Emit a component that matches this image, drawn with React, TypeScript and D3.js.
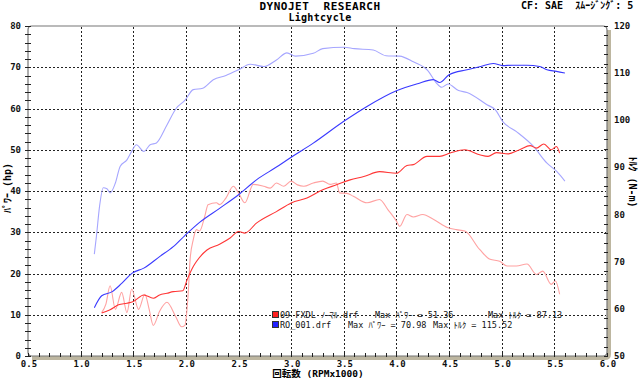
import React from "react";
import * as d3 from "d3";

// ---- data ----
const xTicks = [0.5, 1.0, 1.5, 2.0, 2.5, 3.0, 3.5, 4.0, 4.5, 5.0, 5.5, 6.0];
const hpTicks = [0, 10, 20, 30, 40, 50, 60, 70, 80];
const nmTicks = [50, 60, 70, 80, 90, 100, 110, 120];

// RO_001 power (hp)
const roPowerRpm = [1.13, 1.2, 1.3, 1.39, 1.49, 1.6, 1.75, 1.88, 1.99, 2.13, 2.32, 2.5, 2.67, 2.86, 3.0, 3.21, 3.5, 3.72, 4.0, 4.2, 4.35, 4.41, 4.5, 4.67, 4.8, 4.92, 5.01, 5.1, 5.24, 5.36, 5.43, 5.52, 5.6];
const roPower = [11.7, 14.6, 15.6, 17.6, 20.1, 21.3, 24.1, 26.5, 29.2, 32.4, 35.8, 39.1, 42.7, 45.8, 48.2, 51.6, 56.9, 60.5, 64.3, 66.0, 67.0, 66.3, 68.2, 69.4, 70.2, 70.9, 70.4, 70.5, 70.5, 70.2, 69.4, 69.0, 68.6];

// RO_001 torque (N-m)
const roTorqueRpm = [1.13, 1.15, 1.18, 1.215, 1.25, 1.28, 1.33, 1.375, 1.44, 1.485, 1.53, 1.6, 1.66, 1.72, 1.82, 1.91, 1.99, 2.07, 2.16, 2.26, 2.38, 2.5, 2.61, 2.74, 2.86, 2.96, 3.04, 3.21, 3.3, 3.5, 3.6, 3.78, 3.9, 4.03, 4.16, 4.3, 4.38, 4.43, 4.49, 4.59, 4.67, 4.86, 4.94, 5.01, 5.14, 5.3, 5.43, 5.52, 5.6];
const roTorque = [71.6, 75.4, 81.8, 85.7, 85.5, 84.6, 86.7, 90.2, 91.6, 93.4, 94.8, 93.4, 94.8, 95.2, 99.0, 102.6, 104.2, 106.5, 106.8, 108.6, 109.5, 110.7, 111.9, 111.4, 112.8, 114.3, 113.6, 114.2, 115.2, 115.5, 115.2, 114.9, 113.7, 113.6, 112.4, 110.5, 107.9, 107.0, 107.7, 106.3, 105.9, 103.3, 102.2, 99.7, 97.6, 94.5, 90.9, 89.2, 87.1];

// 09 FXDL power (hp)
const fxPowerRpm = [1.2, 1.28, 1.36, 1.44, 1.5, 1.6, 1.69, 1.75, 1.82, 1.88, 1.97, 2.01, 2.07, 2.1, 2.2, 2.32, 2.42, 2.5, 2.56, 2.67, 2.86, 3.0, 3.15, 3.3, 3.43, 3.56, 3.69, 3.84, 4.0, 4.1, 4.16, 4.29, 4.41, 4.51, 4.65, 4.79, 4.87, 4.95, 5.06, 5.17, 5.27, 5.33, 5.4, 5.47, 5.52, 5.55];
const fxPower = [10.4, 11.2, 12.4, 12.8, 13.2, 14.8, 14.0, 14.8, 15.2, 15.6, 15.8, 18.4, 21.7, 22.9, 25.7, 27.1, 28.6, 30.2, 29.8, 32.2, 35.0, 37.1, 38.3, 40.3, 41.5, 42.7, 43.5, 44.7, 44.3, 46.2, 46.4, 48.4, 48.4, 49.2, 50.0, 48.8, 48.4, 49.3, 49.0, 50.0, 51.0, 50.4, 51.4, 50.0, 50.8, 49.2];

// 09 FXDL torque (N-m)
const fxTorqueRpm = [1.2, 1.24, 1.28, 1.33, 1.39, 1.44, 1.485, 1.55, 1.61, 1.65, 1.69, 1.75, 1.82, 1.9, 1.96, 1.99, 2.02, 2.04, 2.07, 2.1, 2.13, 2.18, 2.21, 2.29, 2.32, 2.38, 2.45, 2.5, 2.56, 2.64, 2.74, 2.8, 2.86, 2.93, 3.0, 3.06, 3.12, 3.21, 3.3, 3.37, 3.43, 3.46, 3.53, 3.59, 3.72, 3.84, 3.92, 4.0, 4.03, 4.1, 4.16, 4.25, 4.35, 4.49, 4.57, 4.65, 4.79, 4.89, 4.98, 5.05, 5.14, 5.24, 5.33, 5.39, 5.47, 5.51, 5.55];
const fxTorque = [59.2, 61, 64.9, 59.9, 63.5, 59.2, 64.2, 59.9, 63.1, 60, 56.5, 59.5, 61.4, 58.5, 56.2, 56.5, 62.7, 70.5, 74.7, 76.8, 76.5, 79.7, 82.1, 82.5, 82.1, 83.5, 86.0, 84.6, 82.5, 86.4, 86.0, 85.6, 86.7, 86.0, 87.1, 86.3, 86.0, 86.7, 87.1, 86.4, 86.7, 84.6, 84.5, 83.9, 82.5, 83.2, 81.0, 78.6, 77.5, 80.0, 79.5, 80.0, 79.0, 77.2, 76.8, 76.5, 72.6, 70.5, 70.1, 69.1, 69.1, 69.5, 67.3, 68.0, 65.2, 65.9, 63.1];

const legendNames = ["09 FXDL ﾉｰﾏﾙ.drf", "RO_001.drf"];
const legendPower = ["51.36", "70.98"];
const legendTorque = ["87.13", "115.52"];
const legendColors = ["#ff2020", "#2020ff"];

// ---- layout ----
const W = 640, H = 378;
const X0 = 28, X1 = 607, YT = 26, YB = 356;
const FONT = "'DejaVu Sans Mono', 'Noto Sans CJK JP', monospace";

export default function App() {
  const x = d3.scaleLinear().domain([0.5, 6.0]).range([X0, X1]);
  const yHp = d3.scaleLinear().domain([0, 80]).range([YB, YT]);
  const yNm = d3.scaleLinear().domain([50, 120]).range([YB, YT]);

  const mk = (rpm: number[], vals: number[], y: d3.ScaleLinear<number, number>) =>
    d3.line<number>().x((_, i) => x(rpm[i])).y((v) => y(v)).curve(d3.curveMonotoneX)(vals) || "";

  const minorX = d3.range(5, 61).map((v) => v / 10);
  const minorHp = d3.range(0, 81, 2);
  const minorNm = d3.range(50, 121, 2);
  const r = 4;
  const frame = `M${X0},${YB - r} L${X0},${YT + r} Q${X0},${YT} ${X0 + r},${YT} L${X1 - r},${YT} Q${X1},${YT} ${X1},${YT + r} L${X1},${YB - r} Q${X1},${YB} ${X1 - r},${YB} L${X0 + r},${YB} Q${X0},${YB} ${X0},${YB - r}`;
  const shadow = `M${X1 + 2},${YT + r} L${X1 + 2},${YB - r + 2} Q${X1 + 2},${YB + 2} ${X1 - r + 2},${YB + 2} L${X0 + r},${YB + 2}`;

  return (
    <svg width={W} height={H} style={{ position: "absolute", left: 0, top: 0, background: "#fff" }} fontFamily={FONT} fontWeight="bold">
      <rect x={0} y={0} width={W} height={H} fill="#fff" />
      {/* header */}
      <text x={320} y={10} textAnchor="middle" fontSize={11} letterSpacing={0.5} xmlSpace="preserve">DYNOJET  RESEARCH</text>
      <text x={320} y={21} textAnchor="middle" fontSize={10} letterSpacing={0.3}>Lightcycle</text>
      <text x={521} y={9} fontSize={10} xmlSpace="preserve">CF: SAE  ｽﾑｰｼﾞﾝｸﾞ: 5</text>

      {/* grid */}
      <g stroke="#222" strokeDasharray="2,2" shapeRendering="crispEdges" strokeWidth={1}>
        {xTicks.slice(1, -1).map((t) => (
          <line key={"gx" + t} x1={Math.round(x(t)) + 0.5} x2={Math.round(x(t)) + 0.5} y1={YT + 1} y2={YB - 1} />
        ))}
        {hpTicks.slice(1, -1).map((t) => (
          <line key={"gy" + t} x1={X0 + 1} x2={X1 - 1} y1={Math.round(yHp(t)) + 0.5} y2={Math.round(yHp(t)) + 0.5} />
        ))}
      </g>

      {/* frame */}
      <path d={shadow} fill="none" stroke="#bdb6a0" strokeWidth={4} />
      <path d={frame} fill="none" stroke="#777" strokeWidth={1.2} />

      {/* ticks */}
      <g stroke="#222" strokeWidth={1} shapeRendering="crispEdges">
        {minorHp.map((t) => (
          <line key={"th" + t} x1={X0 - 3} x2={X0 + 3} y1={Math.round(yHp(t)) + 0.5} y2={Math.round(yHp(t)) + 0.5} />
        ))}
        {minorNm.map((t) => (
          <line key={"tn" + t} x1={X1 - 3} x2={X1 + 1} y1={Math.round(yNm(t)) + 0.5} y2={Math.round(yNm(t)) + 0.5} />
        ))}
        {minorX.map((t) => (
          <line key={"tx" + t} x1={Math.round(x(t)) + 0.5} x2={Math.round(x(t)) + 0.5} y1={YB - 3} y2={YB + 1} />
        ))}
      </g>

      {/* tick labels */}
      <g fontSize={9} fill="#111">
        {hpTicks.map((t) => (
          <text key={"lh" + t} x={21} y={yHp(t) + 3} textAnchor="end">{t}</text>
        ))}
        {nmTicks.map((t) => (
          <text key={"ln" + t} x={614} y={yNm(t) + 3} textAnchor="start">{t}</text>
        ))}
        {xTicks.map((t) => (
          <text key={"lx" + t} x={x(t) + 1} y={367} textAnchor="middle">{t.toFixed(1)}</text>
        ))}
      </g>

      {/* axis titles */}
      <text x={318} y={377} textAnchor="middle" fontSize={9.5}>回転数 (RPMx1000)</text>
      <text transform={`translate(11,188) rotate(-90)`} textAnchor="middle" fontSize={10}>ﾊﾟﾜｰ (hp)</text>
      <text transform={`translate(629,182) rotate(90)`} textAnchor="middle" fontSize={10}>ﾄﾙｸ (N-m)</text>

      {/* curves */}
      <g fill="none" strokeWidth={1.1} strokeLinejoin="round">
        <path d={mk(fxTorqueRpm, fxTorque, yNm)} stroke="#ffa2a2" />
        <path d={mk(roTorqueRpm, roTorque, yNm)} stroke="#a6a6ff" />
        <path d={mk(fxPowerRpm, fxPower, yHp)} stroke="#ff3636" />
        <path d={mk(roPowerRpm, roPower, yHp)} stroke="#3a3aff" />
      </g>

      {/* legend */}
      <g fontSize={8.5} fill="#111" fontWeight="normal">
        {legendNames.map((n, i) => {
          const yy = 318 + i * 10;
          return (
            <g key={n}>
              <rect x={272.5} y={yy - 6.5} width={6} height={6} fill={legendColors[i]} stroke="#333" />
              <text x={280} y={yy} xmlSpace="preserve">{n}</text>
              <text x={i === 0 ? 375 : 348} y={yy} xmlSpace="preserve">{`Max ﾊﾟﾜｰ = ${legendPower[i]}`}</text>
              <text x={i === 0 ? 488 : 433} y={yy} xmlSpace="preserve">{`Max ﾄﾙｸ = ${legendTorque[i]}`}</text>
            </g>
          );
        })}
      </g>
    </svg>
  );
}
